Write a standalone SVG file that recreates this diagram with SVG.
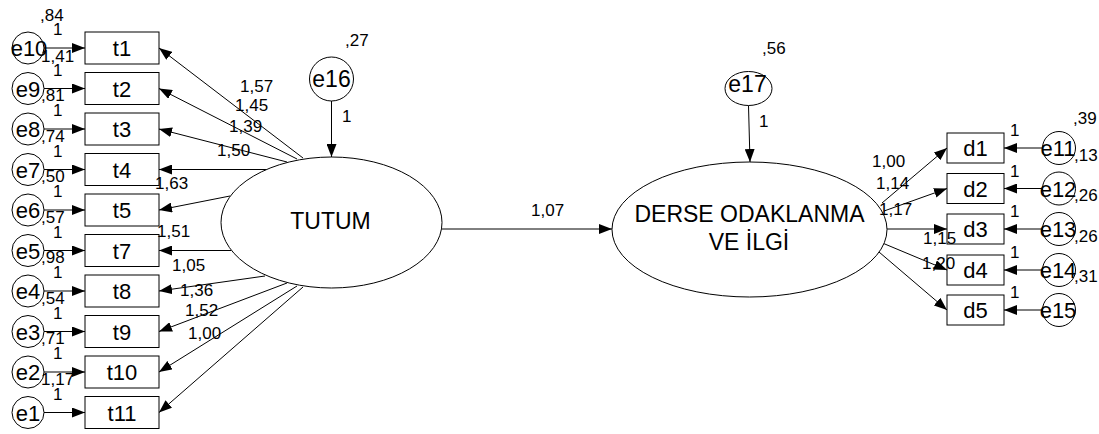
<svg xmlns="http://www.w3.org/2000/svg" width="1099" height="434" viewBox="0 0 1099 434">
<style>
text{font-family:"Liberation Sans",Arial,sans-serif;fill:#000}
.n{font-size:17px}
.lb{font-size:22px;text-anchor:middle}
.big{font-size:23px;text-anchor:middle}
.sh{fill:#fff;stroke:#000;stroke-width:1}
.c line{stroke:#000;stroke-width:1;marker-end:url(#ah)}
</style>
<defs>
<marker id="ah" markerUnits="userSpaceOnUse" markerWidth="13" markerHeight="10" refX="13" refY="5" orient="auto"><path d="M0,0 L13,5 L0,10 z" fill="#000"/></marker>
</defs>
<rect width="1099" height="434" fill="#fff"/>
<g class="c" id="connectors">
<line x1="44" y1="48" x2="85" y2="48"/>
<line x1="44" y1="88.5" x2="85" y2="88.5"/>
<line x1="44" y1="129" x2="85" y2="129"/>
<line x1="44" y1="169.5" x2="85" y2="169.5"/>
<line x1="44" y1="210" x2="85" y2="210"/>
<line x1="44" y1="250.5" x2="85" y2="250.5"/>
<line x1="44" y1="291" x2="85" y2="291"/>
<line x1="44" y1="331.5" x2="85" y2="331.5"/>
<line x1="44" y1="372" x2="85" y2="372"/>
<line x1="44" y1="412.5" x2="85" y2="412.5"/>
<line x1="303" y1="158" x2="159" y2="48"/>
<line x1="297" y1="159" x2="159" y2="88.5"/>
<line x1="287" y1="162" x2="159" y2="129"/>
<line x1="266" y1="169.5" x2="159" y2="169.5"/>
<line x1="230" y1="196" x2="159" y2="210"/>
<line x1="231" y1="250.5" x2="159" y2="250.5"/>
<line x1="265" y1="276" x2="159" y2="291"/>
<line x1="287" y1="283" x2="159" y2="331.5"/>
<line x1="297" y1="286" x2="159" y2="372"/>
<line x1="303" y1="287" x2="159" y2="412.5"/>
<line x1="331.5" y1="101" x2="331.5" y2="157"/>
<line x1="442" y1="229" x2="612" y2="229"/>
<line x1="748.5" y1="105.5" x2="750" y2="162"/>
<line x1="882" y1="203" x2="947" y2="148"/>
<line x1="884" y1="211" x2="947" y2="188.5"/>
<line x1="887" y1="229" x2="947" y2="229"/>
<line x1="880" y1="242" x2="947" y2="270"/>
<line x1="879" y1="252" x2="947" y2="310"/>
<line x1="1042.5" y1="148" x2="1004" y2="148"/>
<line x1="1042.5" y1="188.5" x2="1004" y2="188.5"/>
<line x1="1042.5" y1="229" x2="1004" y2="229"/>
<line x1="1042.5" y1="270" x2="1004" y2="270"/>
<line x1="1042.5" y1="310" x2="1004" y2="310"/>
</g>
<g id="TUTUM"><ellipse class="sh" cx="331.5" cy="222.5" rx="110.5" ry="65.5"/><text class="big" x="330.5" y="229">TUTUM</text></g>
<g id="DERSE"><ellipse class="sh" cx="749.5" cy="229.5" rx="137.5" ry="67.5"/><text class="big" x="749.5" y="221.5">DERSE ODAKLANMA</text><text class="big" x="749" y="250">VE İLGİ</text></g>
<g id="e16"><circle class="sh" cx="331.5" cy="79" r="22"/><text class="big" x="331.5" y="86.5">e16</text></g>
<g id="e17"><ellipse class="sh" cx="748.5" cy="88.5" rx="23.5" ry="17"/><text class="big" x="747.5" y="92">e17</text></g>
<g id="t1"><rect class="sh" x="85" y="32" width="74" height="32"/><text class="lb" x="122" y="56">t1</text></g>
<g id="t2"><rect class="sh" x="85" y="72.5" width="74" height="32"/><text class="lb" x="122" y="96.5">t2</text></g>
<g id="t3"><rect class="sh" x="85" y="113" width="74" height="32"/><text class="lb" x="122" y="137">t3</text></g>
<g id="t4"><rect class="sh" x="85" y="153.5" width="74" height="32"/><text class="lb" x="122" y="177.5">t4</text></g>
<g id="t5"><rect class="sh" x="85" y="194" width="74" height="32"/><text class="lb" x="122" y="218">t5</text></g>
<g id="t7"><rect class="sh" x="85" y="234.5" width="74" height="32"/><text class="lb" x="122" y="258.5">t7</text></g>
<g id="t8"><rect class="sh" x="85" y="275" width="74" height="32"/><text class="lb" x="122" y="299">t8</text></g>
<g id="t9"><rect class="sh" x="85" y="315.5" width="74" height="32"/><text class="lb" x="122" y="339.5">t9</text></g>
<g id="t10"><rect class="sh" x="85" y="356" width="74" height="32"/><text class="lb" x="122" y="380">t10</text></g>
<g id="t11"><rect class="sh" x="85" y="396.5" width="74" height="32"/><text class="lb" x="122" y="420.5">t11</text></g>
<g id="e10"><circle class="sh" cx="28" cy="48" r="16"/><text class="lb" x="29" y="56">e10</text></g>
<g id="e9"><circle class="sh" cx="28" cy="88.5" r="16"/><text class="lb" x="28" y="96.5">e9</text></g>
<g id="e8"><circle class="sh" cx="28" cy="129" r="16"/><text class="lb" x="28" y="137">e8</text></g>
<g id="e7"><circle class="sh" cx="28" cy="169.5" r="16"/><text class="lb" x="28" y="177.5">e7</text></g>
<g id="e6"><circle class="sh" cx="28" cy="210" r="16"/><text class="lb" x="28" y="218">e6</text></g>
<g id="e5"><circle class="sh" cx="28" cy="250.5" r="16"/><text class="lb" x="28" y="258.5">e5</text></g>
<g id="e4"><circle class="sh" cx="28" cy="291" r="16"/><text class="lb" x="28" y="299">e4</text></g>
<g id="e3"><circle class="sh" cx="28" cy="331.5" r="16"/><text class="lb" x="28" y="339.5">e3</text></g>
<g id="e2"><circle class="sh" cx="28" cy="372" r="16"/><text class="lb" x="28" y="380">e2</text></g>
<g id="e1"><circle class="sh" cx="28" cy="412.5" r="16"/><text class="lb" x="28" y="420.5">e1</text></g>
<g id="d1"><rect class="sh" x="947" y="133" width="57" height="30"/><text class="lb" x="975.5" y="156">d1</text></g>
<g id="d2"><rect class="sh" x="947" y="173.5" width="57" height="30"/><text class="lb" x="975.5" y="196.5">d2</text></g>
<g id="d3"><rect class="sh" x="947" y="214" width="57" height="30"/><text class="lb" x="975.5" y="237">d3</text></g>
<g id="d4"><rect class="sh" x="947" y="255" width="57" height="30"/><text class="lb" x="975.5" y="278">d4</text></g>
<g id="d5"><rect class="sh" x="947" y="295" width="57" height="30"/><text class="lb" x="975.5" y="318">d5</text></g>
<g id="e11"><circle class="sh" cx="1059" cy="148" r="16.5"/><text class="lb" x="1058" y="156">e11</text></g>
<g id="e12"><circle class="sh" cx="1059" cy="188.5" r="16.5"/><text class="lb" x="1058" y="196.5">e12</text></g>
<g id="e13"><circle class="sh" cx="1059" cy="229" r="16.5"/><text class="lb" x="1058" y="237">e13</text></g>
<g id="e14"><circle class="sh" cx="1059" cy="270" r="16.5"/><text class="lb" x="1058" y="278">e14</text></g>
<g id="e15"><circle class="sh" cx="1059" cy="310" r="16.5"/><text class="lb" x="1058" y="318">e15</text></g>
<g id="labels" class="n">
<text class="n" x="40" y="21">,84</text>
<text class="n" x="53" y="35">1</text><text class="n" x="41" y="62">1,41</text>
<text class="n" x="53" y="75.5">1</text><text class="n" x="41" y="100.5">,81</text>
<text class="n" x="53" y="116">1</text><text class="n" x="41" y="141.5">,74</text>
<text class="n" x="53" y="156.5">1</text><text class="n" x="41" y="182">,50</text>
<text class="n" x="53" y="197">1</text><text class="n" x="41" y="222.5">,57</text>
<text class="n" x="53" y="237.5">1</text><text class="n" x="41" y="263">,98</text>
<text class="n" x="53" y="278">1</text><text class="n" x="41" y="303.5">,54</text>
<text class="n" x="53" y="318.5">1</text><text class="n" x="41" y="344">,71</text>
<text class="n" x="53" y="359">1</text><text class="n" x="41" y="384.5">1,17</text>
<text class="n" x="53" y="399.5">1</text>
<text class="n" x="240" y="91.5">1,57</text>
<text class="n" x="235" y="110.5">1,45</text>
<text class="n" x="229" y="132">1,39</text>
<text class="n" x="217" y="156">1,50</text>
<text class="n" x="155" y="189">1,63</text>
<text class="n" x="157" y="237">1,51</text>
<text class="n" x="172" y="270.5">1,05</text>
<text class="n" x="180" y="295.5">1,36</text>
<text class="n" x="185" y="315.5">1,52</text>
<text class="n" x="188" y="339">1,00</text>
<text class="n" x="345" y="46">,27</text>
<text class="n" x="342" y="122">1</text>
<text class="n" x="531" y="215.5">1,07</text>
<text class="n" x="762" y="54">,56</text>
<text class="n" x="759" y="127">1</text>
<text class="n" x="872" y="167">1,00</text>
<text class="n" x="876" y="189">1,14</text>
<text class="n" x="879" y="215">1,17</text>
<text class="n" x="923" y="244">1,15</text>
<text class="n" x="922" y="269">1,20</text>
<text class="n" x="1010" y="136">1</text>
<text class="n" x="1010" y="176.5">1</text>
<text class="n" x="1010" y="217">1</text>
<text class="n" x="1010" y="258">1</text>
<text class="n" x="1010" y="298">1</text>
<text class="n" x="1073" y="124">,39</text>
<text class="n" x="1074" y="160.5">,13</text>
<text class="n" x="1074" y="200.5">,26</text>
<text class="n" x="1074" y="242">,26</text>
<text class="n" x="1074" y="282">,31</text>
</g>
</svg>
